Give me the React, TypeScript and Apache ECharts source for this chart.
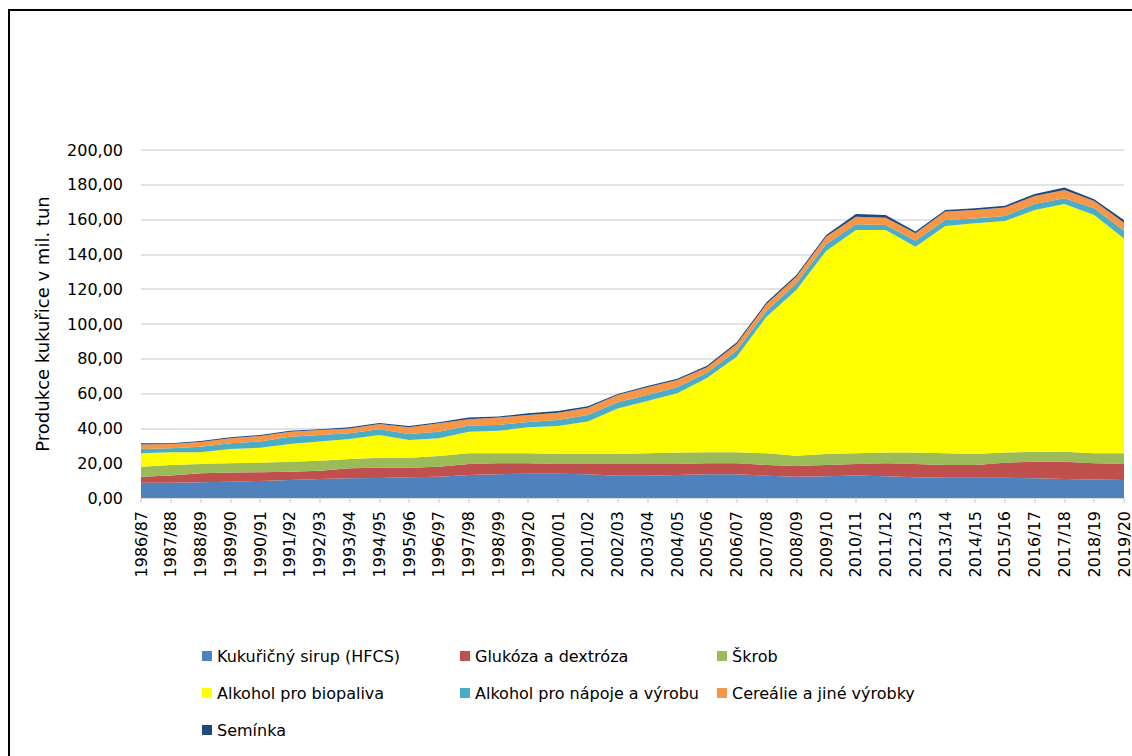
import { useEffect, useRef } from "react";
import * as echarts from "echarts";

const categories = [
  "1986/87", "1987/88", "1988/89", "1989/90", "1990/91", "1991/92", "1992/93", "1993/94",
  "1994/95", "1995/96", "1996/97", "1997/98", "1998/99", "1999/20", "2000/01", "2001/02",
  "2002/03", "2003/04", "2004/05", "2005/06", "2006/07", "2007/08", "2008/09", "2009/10",
  "2010/11", "2011/12", "2012/13", "2013/14", "2014/15", "2015/16", "2016/17", "2017/18",
  "2018/19", "2019/20",
];

const hfcs = [8.8, 8.8, 9.0, 9.4, 9.8, 10.3, 10.9, 11.3, 11.5, 11.9, 12.2, 13.2, 13.6, 14.0, 14.0, 13.6, 12.8, 12.8, 13.2, 13.6, 13.6, 12.8, 12.2, 12.5, 13.0, 12.5, 11.9, 11.7, 11.7, 11.7, 11.3, 10.9, 10.7, 10.3];
const glukoza = [3.4, 4.2, 5.2, 5.2, 5.0, 4.8, 4.8, 5.8, 5.9, 5.5, 5.8, 6.3, 6.3, 5.9, 5.5, 5.9, 6.7, 6.7, 6.3, 6.3, 6.3, 6.2, 6.2, 6.5, 6.5, 7.4, 7.6, 7.3, 7.3, 8.6, 9.6, 10.0, 9.2, 9.2];
const skrob = [5.8, 6.0, 5.3, 5.3, 5.5, 5.8, 5.7, 5.3, 5.8, 5.8, 6.1, 6.2, 5.8, 5.8, 5.8, 5.8, 5.8, 6.2, 6.6, 6.4, 6.4, 6.7, 5.9, 6.3, 6.2, 6.2, 6.6, 6.7, 6.3, 5.8, 5.7, 5.7, 5.8, 6.2];
const biopaliva = [7.7, 7.3, 6.8, 8.3, 8.6, 10.1, 11.0, 11.5, 13.0, 10.1, 10.2, 12.4, 13.0, 14.9, 16.1, 18.6, 26.2, 30.0, 34.1, 42.7, 54.9, 78.5, 95.2, 116.7, 128.3, 127.9, 118.3, 130.6, 132.6, 133.1, 138.9, 142.4, 136.9, 123.5];
const napoje = [2.5, 2.3, 3.2, 3.2, 3.5, 4.2, 3.8, 3.3, 3.3, 3.5, 3.8, 3.5, 3.3, 3.1, 3.4, 3.8, 3.5, 3.5, 3.4, 3.0, 3.5, 3.3, 3.9, 3.8, 3.3, 2.9, 3.5, 3.5, 2.8, 2.9, 3.5, 3.2, 3.9, 4.4];
const cerealie = [2.6, 2.4, 2.7, 2.9, 3.2, 2.9, 2.9, 2.8, 3.0, 3.8, 4.8, 3.6, 4.2, 4.0, 4.2, 4.2, 4.2, 4.4, 4.2, 3.2, 3.8, 4.0, 3.8, 4.4, 4.4, 4.2, 4.2, 4.8, 4.8, 4.8, 4.6, 4.8, 4.2, 4.6];
const seminka = [0.6, 0.5, 0.5, 0.6, 0.6, 0.6, 0.4, 0.6, 0.6, 0.8, 0.6, 1.0, 0.6, 1.0, 1.0, 0.8, 0.6, 0.8, 0.8, 0.8, 1.0, 1.0, 1.0, 0.9, 1.5, 1.5, 1.0, 0.9, 1.0, 1.1, 1.1, 1.4, 1.0, 1.6];

const seriesNames = [
  "Kukuřičný sirup (HFCS)",
  "Glukóza a dextróza",
  "Škrob",
  "Alkohol pro biopaliva",
  "Alkohol pro nápoje a výrobu",
  "Cereálie a jiné výrobky",
  "Semínka",
];
const seriesData = [hfcs, glukoza, skrob, biopaliva, napoje, cerealie, seminka];
const colors = ["#4F81BD", "#C0504D", "#9BBB59", "#FFFF00", "#4BACC6", "#F79646", "#1F497D"];

const FONT = "DejaVu Sans";

export default function App() {
  const ref = useRef<HTMLDivElement>(null);

  useEffect(() => {
    if (!ref.current) return;
    const chart = echarts.init(ref.current, null, { renderer: "svg" });
    const legendBase = {
      orient: "vertical" as const,
      top: 641,
      itemWidth: 10,
      itemHeight: 10,
      itemGap: 17,
      icon: "rect",
      textStyle: { fontFamily: FONT, fontSize: 16, color: "#000", lineHeight: 20 },
      selectedMode: false,
    };
    chart.setOption({
      animation: false,
      color: colors,
      textStyle: { fontFamily: FONT },
      grid: { left: 141, right: 5, top: 150, bottom: 258, containLabel: false },
      graphic: [
        {
          type: "rect",
          shape: { x: 9, y: 10, width: 1300, height: 900 },
          style: { fill: "none", stroke: "#000", lineWidth: 2 },
          silent: true,
        },
      ],
      legend: [
        { ...legendBase, left: 197, data: [seriesNames[0], seriesNames[3], seriesNames[6]] },
        { ...legendBase, left: 455, data: [seriesNames[1], seriesNames[4]] },
        { ...legendBase, left: 712, data: [seriesNames[2], seriesNames[5]] },
      ],
      xAxis: {
        type: "category",
        data: categories,
        boundaryGap: false,
        axisLine: { show: true, lineStyle: { color: "#d9d9d9", width: 1.5 } },
        axisTick: { show: true, length: 5, lineStyle: { color: "#d9d9d9", width: 1.5 } },
        axisLabel: {
          interval: 0,
          rotate: 90,
          margin: 13,
          fontFamily: FONT,
          fontSize: 16,
          color: "#000",
        },
        splitLine: { show: false },
      },
      yAxis: {
        type: "value",
        min: 0,
        max: 200,
        interval: 20,
        name: "Produkce kukuřice v mil. tun",
        nameLocation: "middle",
        nameGap: 90,
        nameTextStyle: { fontFamily: FONT, fontSize: 18, color: "#000" },
        axisLine: { show: false },
        axisTick: { show: false },
        axisLabel: {
          margin: 18,
          fontFamily: FONT,
          fontSize: 16,
          color: "#000",
          formatter: (v: number) => v.toFixed(2).replace(".", ","),
        },
        splitLine: { show: true, lineStyle: { color: "#d9d9d9", width: 1.5 } },
      },
      series: seriesNames.map((name, i) => ({
        name,
        type: "line",
        stack: "total",
        data: seriesData[i],
        symbol: "none",
        showSymbol: false,
        lineStyle: { width: 0 },
        areaStyle: { color: colors[i], opacity: 1 },
        itemStyle: { color: colors[i] },
        emphasis: { disabled: true },
      })),
    });
    return () => chart.dispose();
  }, []);

  return (
    <div
      ref={ref}
      style={{ position: "fixed", left: 0, top: 0, width: 1132, height: 756, background: "#fff" }}
    />
  );
}
